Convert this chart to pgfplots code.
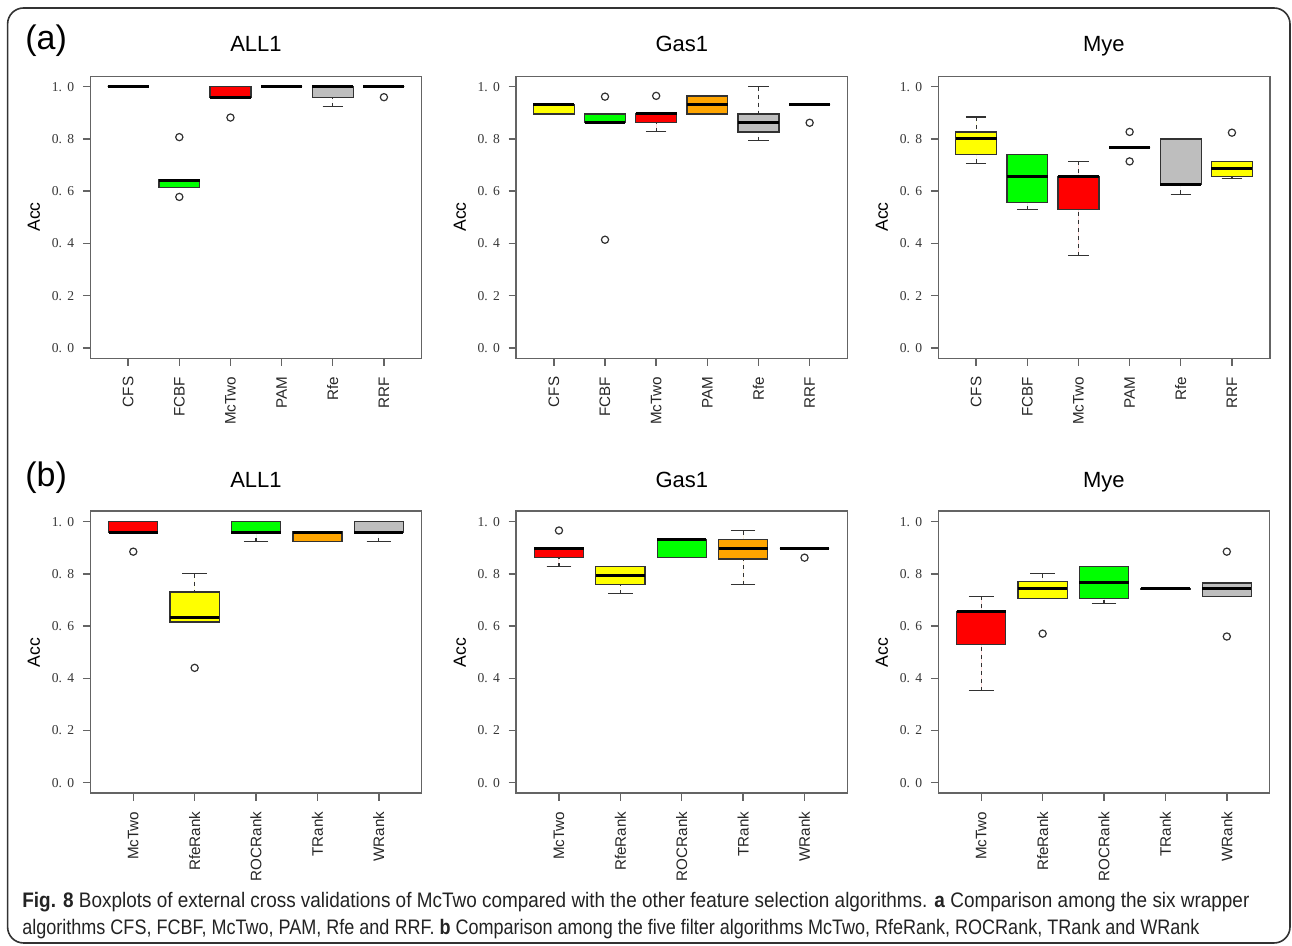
\documentclass[border=0pt]{standalone}
\usepackage{pgfplots}
\pgfplotsset{compat=1.18}
\usepgfplotslibrary{statistics}
\usepackage{fontspec}
\setmainfont{Liberation Sans}
\newfontfamily\tickfont{Liberation Serif}
\newfontfamily\capfont[FakeStretch=0.88]{Liberation Sans}
\definecolor{bred}{RGB}{255,0,0}
\definecolor{bgreen}{RGB}{0,255,0}
\definecolor{byellow}{RGB}{255,255,0}
\definecolor{borange}{RGB}{255,165,0}
\definecolor{bgrey}{RGB}{190,190,190}
\definecolor{boxdraw}{RGB}{50,50,50}
\definecolor{axgray}{RGB}{100,100,100}
\definecolor{txtgray}{RGB}{55,55,55}
\definecolor{capgray}{RGB}{35,35,35}
\definecolor{framegray}{RGB}{50,50,50}

\newcommand\ytl[2]{#1.\hspace{2.6pt}#2}

\pgfplotsset{
  panel/.style={
    scale only axis, width=165.75pt, height=141pt,
    ymin=-0.04, ymax=1.04,
    ytick={0,0.2,0.4,0.6,0.8,1.0},
    yticklabels={\ytl00,\ytl02,\ytl04,\ytl06,\ytl08,\ytl10},
    tick align=outside, tick pos=left,
    major tick length=3.75pt,
    axis line style={draw=axgray, line width=0.7pt},
    tick style={draw=axgray, line width=0.7pt},
    yticklabel style={font=\tickfont\fontsize{6.8}{7.5}\selectfont, text=txtgray},
    xticklabel style={font=\fontsize{7.6}{9}\selectfont, rotate=90, anchor=east, text=black!85},
    xticklabel shift=2pt, yticklabel shift=0.8pt,
    boxplot/draw direction=y,
    boxplot/box extend=0.8,
    boxplot/whisker extend=0.4,
    boxplot/every median/.style={draw=black, line width=1.5pt},
    boxplot/draw/lower whisker/.code={%
      \draw[draw=boxdraw, line width=0.6pt, dash pattern=on 2pt off 2pt]
        (boxplot box cs:\pgfplotsboxplotvalue{lower whisker},0.5)
        -- (boxplot box cs:\pgfplotsboxplotvalue{lower quartile},0.5);
      \draw[draw=boxdraw, line width=0.6pt, solid]
        (boxplot whisker cs:\pgfplotsboxplotvalue{lower whisker},0)
        -- (boxplot whisker cs:\pgfplotsboxplotvalue{lower whisker},1);
    },
    boxplot/draw/upper whisker/.code={%
      \draw[draw=boxdraw, line width=0.6pt, dash pattern=on 2pt off 2pt]
        (boxplot box cs:\pgfplotsboxplotvalue{upper whisker},0.5)
        -- (boxplot box cs:\pgfplotsboxplotvalue{upper quartile},0.5);
      \draw[draw=boxdraw, line width=0.6pt, solid]
        (boxplot whisker cs:\pgfplotsboxplotvalue{upper whisker},0)
        -- (boxplot whisker cs:\pgfplotsboxplotvalue{upper whisker},1);
    },
    clip=false,
  },
  rowa/.style={panel, xmin=0.26, xmax=6.74, xtick={1,2,3,4,5,6},
    xticklabels={CFS,FCBF,McTwo,PAM,Rfe,RRF}},
  rowb/.style={panel, xmin=0.3, xmax=5.7, xtick={1,2,3,4,5},
    xticklabels={McTwo,RfeRank,ROCRank,TRank,WRank}},
  bstyle/.style={draw=boxdraw, line width=0.65pt, fill=#1, mark=o, mark size=1.8pt,
    mark options={fill=none, draw=boxdraw, solid, line width=0.6pt}},
}

% #1 colour, #2 position, #3 lower whisker, #4 lower quartile, #5 median, #6 upper quartile, #7 upper whisker
\newcommand\bp[7]{\addplot[bstyle=#1, boxplot prepared={draw position=#2, lower whisker=#3, lower quartile=#4, median=#5, upper quartile=#6, upper whisker=#7}] coordinates {};}
% same, #8 outliers
\newcommand\bpo[8]{\addplot[bstyle=#1, boxplot prepared={draw position=#2, lower whisker=#3, lower quartile=#4, median=#5, upper quartile=#6, upper whisker=#7}] table[row sep=\\, y index=0] {v\\#8};}

\begin{document}
\begin{tikzpicture}
\useasboundingbox (0,0) rectangle (646pt,473pt);
\draw[framegray, line width=0.8pt, rounded corners=8pt] (3.8pt,1.5pt) rectangle (645pt,469pt);

% ---------- row (a) ----------
\begin{axis}[rowa, at={(45.15pt,293.85pt)}, anchor=south west]
\bp{byellow}{1}{1}{1}{1}{1}{1}
\bpo{bgreen}{2}{0.615}{0.615}{0.640}{0.643}{0.643}{0.807\\0.578\\}
\bpo{bred}{3}{0.96}{0.96}{0.96}{1.0}{1.0}{0.882\\}
\bp{borange}{4}{1}{1}{1}{1}{1}
\bp{bgrey}{5}{0.923}{0.96}{1.0}{1.0}{1.0}
\bpo{byellow}{6}{1}{1}{1}{1}{1}{0.96\\}
\end{axis}

\begin{axis}[rowa, at={(258pt,293.85pt)}, anchor=south west]
\bp{byellow}{1}{0.896}{0.896}{0.931}{0.931}{0.931}
\bpo{bgreen}{2}{0.862}{0.862}{0.862}{0.896}{0.896}{0.962\\0.414\\}
\bpo{bred}{3}{0.827}{0.862}{0.896}{0.896}{0.896}{0.965\\}
\bp{borange}{4}{0.896}{0.896}{0.931}{0.965}{0.965}
\bp{bgrey}{5}{0.793}{0.827}{0.862}{0.896}{1.0}
\bpo{byellow}{6}{0.931}{0.931}{0.931}{0.931}{0.931}{0.862\\}
\end{axis}

\begin{axis}[rowa, at={(469.15pt,293.85pt)}, anchor=south west]
\bp{byellow}{1}{0.706}{0.741}{0.800}{0.827}{0.884}
\bp{bgreen}{2}{0.529}{0.557}{0.657}{0.741}{0.741}
\bp{bred}{3}{0.353}{0.529}{0.657}{0.657}{0.714}
\bpo{borange}{4}{0.767}{0.767}{0.767}{0.767}{0.767}{0.827\\0.714\\}
\bp{bgrey}{5}{0.588}{0.627}{0.627}{0.800}{0.800}
\bpo{byellow}{6}{0.647}{0.657}{0.686}{0.714}{0.714}{0.824\\}
\end{axis}

% ---------- row (b) ----------
\begin{axis}[rowb, at={(45.15pt,76.4pt)}, anchor=south west]
\bpo{bred}{1}{0.96}{0.96}{0.96}{1.0}{1.0}{0.885\\}
\bpo{byellow}{2}{0.616}{0.616}{0.632}{0.731}{0.80}{0.44\\}
\bp{bgreen}{3}{0.923}{0.96}{0.96}{1.0}{1.0}
\bp{borange}{4}{0.923}{0.923}{0.96}{0.96}{0.96}
\bp{bgrey}{5}{0.923}{0.96}{0.96}{1.0}{1.0}
\end{axis}

\begin{axis}[rowb, at={(258pt,76.4pt)}, anchor=south west]
\bpo{bred}{1}{0.828}{0.862}{0.896}{0.896}{0.896}{0.966\\}
\bp{byellow}{2}{0.724}{0.759}{0.793}{0.828}{0.828}
\bp{bgreen}{3}{0.862}{0.862}{0.931}{0.931}{0.931}
\bp{borange}{4}{0.759}{0.857}{0.896}{0.931}{0.966}
\bpo{bgrey}{5}{0.896}{0.896}{0.896}{0.896}{0.896}{0.862\\}
\end{axis}

\begin{axis}[rowb, at={(469.15pt,76.4pt)}, anchor=south west]
\bp{bred}{1}{0.353}{0.529}{0.657}{0.657}{0.714}
\bpo{byellow}{2}{0.706}{0.706}{0.745}{0.772}{0.80}{0.571\\}
\bp{bgreen}{3}{0.686}{0.706}{0.765}{0.828}{0.828}
\bp{borange}{4}{0.741}{0.741}{0.743}{0.745}{0.745}
\bpo{bgrey}{5}{0.714}{0.714}{0.745}{0.765}{0.765}{0.885\\0.560\\}
\end{axis}

% ---------- titles and labels ----------
\foreach \yy/\ya in {447.15/364.5, 229.15/146.75}{
  \node[anchor=base, font=\fontsize{11}{13}\selectfont] at (128pt,\yy pt) {ALL1};
  \node[anchor=base, font=\fontsize{11}{13}\selectfont] at (340.9pt,\yy pt) {Gas1};
  \node[anchor=base, font=\fontsize{11}{13}\selectfont] at (551.9pt,\yy pt) {Mye};
  \node[rotate=90, font=\fontsize{8.8}{10}\selectfont] at (17pt,\ya pt) {Acc};
  \node[rotate=90, font=\fontsize{8.8}{10}\selectfont] at (230pt,\ya pt) {Acc};
  \node[rotate=90, font=\fontsize{8.8}{10}\selectfont] at (441pt,\ya pt) {Acc};
}
\node[anchor=base west, inner sep=0pt, font=\fontsize{17}{20}\selectfont] at (12.5pt,448pt) {(a)};
\node[anchor=base west, inner sep=0pt, font=\fontsize{17}{20}\selectfont] at (12.5pt,229.5pt) {(b)};

% ---------- caption ----------
\node[anchor=base west, inner sep=0pt, text=capgray, font=\capfont\fontsize{10.5}{12}\selectfont] at (11pt,19.3pt)
  {\scalebox{1.025}[1]{\textbf{Fig. 8} Boxplots of external cross validations of McTwo compared with the other feature selection algorithms. \textbf{a} Comparison among the six wrapper}};
\node[anchor=base west, inner sep=0pt, text=capgray, font=\capfont\fontsize{10.5}{12}\selectfont] at (11pt,5.8pt)
  {\scalebox{0.975}[1]{algorithms CFS, FCBF, McTwo, PAM, Rfe and RRF. \textbf{b} Comparison among the five filter algorithms McTwo, RfeRank, ROCRank, TRank and WRank}};
\end{tikzpicture}
\end{document}
